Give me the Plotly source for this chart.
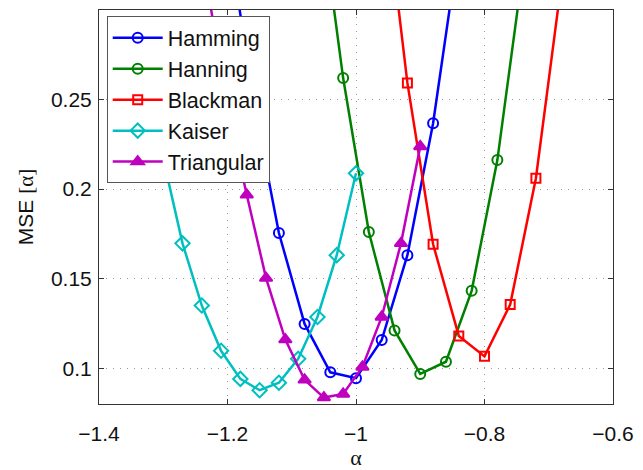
import plotly.graph_objects as go

# ---- data ----
hamming_x = [-1.20, -1.16, -1.12, -1.08, -1.04, -1.00, -0.96, -0.92, -0.88, -0.84]
hamming_y = [0.345, 0.250, 0.1755, 0.1247, 0.0977, 0.0944, 0.1157, 0.1631, 0.2368, 0.336]

hanning_x = [-1.06, -1.02, -0.98, -0.94, -0.90, -0.86, -0.82, -0.78, -0.74]
hanning_y = [0.370, 0.262, 0.176, 0.1211, 0.0968, 0.1036, 0.1432, 0.2162, 0.323]

blackman_x = [-0.96, -0.92, -0.88, -0.84, -0.80, -0.76, -0.72, -0.68]
blackman_y = [0.380, 0.2593, 0.1692, 0.1180, 0.1066, 0.1355, 0.2061, 0.316]

kaiser_x = [-1.33, -1.30, -1.27, -1.24, -1.21, -1.18, -1.15, -1.12, -1.09, -1.06, -1.03, -1.00]
kaiser_y = [0.280, 0.217, 0.1697, 0.1350, 0.1097, 0.0940, 0.0877, 0.0919, 0.1052, 0.1286, 0.1631, 0.2088]

tri_x = [-1.23, -1.20, -1.17, -1.14, -1.11, -1.08, -1.05, -1.02, -0.99, -0.96, -0.93, -0.90]
tri_y = [0.310, 0.245, 0.1968, 0.1503, 0.1160, 0.0935, 0.0836, 0.0856, 0.1007, 0.1286, 0.1697, 0.2238]

x_ticks = [-1.4, -1.2, -1.0, -0.8, -0.6]
x_ticktext = ["\u22121.4", "\u22121.2", "\u22121", "\u22120.8", "\u22120.6"]
y_ticks = [0.1, 0.15, 0.2, 0.25]
y_ticktext = ["0.1", "0.15", "0.2", "0.25"]

series = [
    ("Hamming", hamming_x, hamming_y, "#0000FF", "circle-open", 10),
    ("Hanning", hanning_x, hanning_y, "#008000", "circle-open", 10),
    ("Blackman", blackman_x, blackman_y, "#FF0000", "square-open", 9),
    ("Kaiser", kaiser_x, kaiser_y, "#00BFBF", "diamond-open", 11),
    ("Triangular", tri_x, tri_y, "#BF00BF", "triangle-up", 11),
]

fig = go.Figure()
for name, xs, ys, color, sym, size in series:
    fig.add_trace(go.Scatter(
        x=xs, y=ys, name=name, mode="lines+markers",
        line=dict(color=color, width=2.5),
        marker=dict(symbol=sym, size=size, color=color,
                    line=dict(color=color, width=2)),
        cliponaxis=True,
    ))

axis_common = dict(
    showline=True, linecolor="#333333", linewidth=1, mirror="ticks",
    ticks="inside", ticklen=5, tickcolor="#333333",
    showgrid=True, gridcolor="#999999", griddash="1px,6px", gridwidth=1.2,
    zeroline=False,
    tickfont=dict(family="Liberation Sans, Arial", size=21, color="#111111"),
)

fig.update_layout(
    width=643, height=470,
    margin=dict(l=99, r=30, t=9, b=55),
    paper_bgcolor="white", plot_bgcolor="white",
    xaxis=dict(range=[-1.4, -0.6], tickvals=x_ticks, ticktext=x_ticktext,
               ticklabelstandoff=11,
               title=dict(text="α", standoff=0,
                          font=dict(family="Liberation Serif, Times New Roman", size=22, color="#111111")),
               **axis_common),
    yaxis=dict(range=[0.08, 0.3], tickvals=y_ticks, ticktext=y_ticktext,
               ticklabelstandoff=2,
               title=dict(text="MSE <span style='font-family:Liberation Serif'>[α]</span>", standoff=11,
                          font=dict(family="Liberation Sans, Arial", size=21, color="#111111")),
               **axis_common),
    legend=dict(x=0.015, y=0.984, xanchor="left", yanchor="top",
                bgcolor="white", bordercolor="#555555", borderwidth=1,
                font=dict(family="Liberation Sans, Arial", size=21.5, color="#111111"),
                itemwidth=50, tracegroupgap=0),
    showlegend=True,
)

fig.write_html("out.html")
